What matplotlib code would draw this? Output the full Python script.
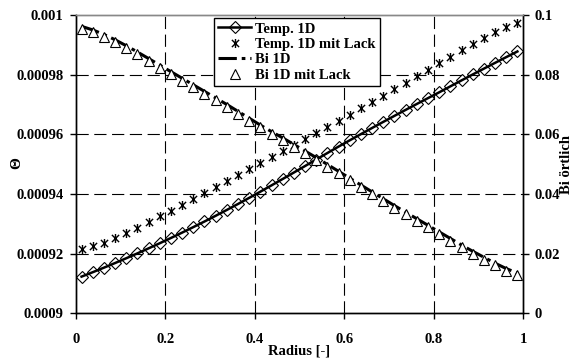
import matplotlib
matplotlib.use("Agg")
import matplotlib.pyplot as plt
from matplotlib.path import Path

plt.rcParams['font.family'] = ['Liberation Serif', 'DejaVu Serif']
plt.rcParams['font.weight'] = 'bold'

# ---------------- data ----------------
radius = [0.0125, 0.0375, 0.0625, 0.0875, 0.1125, 0.1375, 0.1625, 0.1875, 0.2125, 0.2375,
          0.2625, 0.2875, 0.3125, 0.3375, 0.3625, 0.3875, 0.4125, 0.4375, 0.4625, 0.4875,
          0.5125, 0.5375, 0.5625, 0.5875, 0.6125, 0.6375, 0.6625, 0.6875, 0.7125, 0.7375,
          0.7625, 0.7875, 0.8125, 0.8375, 0.8625, 0.8875, 0.9125, 0.9375, 0.9625, 0.9875]

temp_1d = [9.1230e-4, 9.1378e-4, 9.1530e-4, 9.1686e-4, 9.1846e-4, 9.2010e-4, 9.2178e-4, 9.2350e-4,
           9.2526e-4, 9.2706e-4, 9.2890e-4, 9.3078e-4, 9.3270e-4, 9.3466e-4, 9.3666e-4, 9.3870e-4,
           9.4078e-4, 9.4290e-4, 9.4504e-4, 9.4720e-4, 9.4938e-4, 9.5156e-4, 9.5374e-4, 9.5590e-4,
           9.5800e-4, 9.6008e-4, 9.6214e-4, 9.6418e-4, 9.6620e-4, 9.6820e-4, 9.7018e-4, 9.7214e-4,
           9.7408e-4, 9.7608e-4, 9.7808e-4, 9.8006e-4, 9.8202e-4, 9.8396e-4, 9.8588e-4, 9.8778e-4]

temp_1d_lack = [9.2160e-4, 9.2250e-4, 9.2370e-4, 9.2520e-4, 9.2690e-4, 9.2870e-4, 9.3060e-4, 9.3250e-4,
                9.3445e-4, 9.3640e-4, 9.3835e-4, 9.4030e-4, 9.4230e-4, 9.4430e-4, 9.4630e-4, 9.4830e-4,
                9.5030e-4, 9.5230e-4, 9.5430e-4, 9.5635e-4, 9.5840e-4, 9.6045e-4, 9.6250e-4, 9.6455e-4,
                9.6660e-4, 9.6870e-4, 9.7080e-4, 9.7295e-4, 9.7510e-4, 9.7730e-4, 9.7950e-4, 9.8170e-4,
                9.8390e-4, 9.8605e-4, 9.8815e-4, 9.9020e-4, 9.9220e-4, 9.9415e-4, 9.9590e-4, 9.9740e-4]

bi_1d = [0.0962, 0.0950, 0.0935, 0.0917, 0.0897, 0.0876, 0.0854, 0.0832, 0.0810, 0.0788,
         0.0766, 0.0744, 0.0722, 0.0700, 0.0677, 0.0654, 0.0631, 0.0609, 0.0588, 0.0566,
         0.0544, 0.0522, 0.0499, 0.0476, 0.0453, 0.0430, 0.0407, 0.0384, 0.0361, 0.0339,
         0.0317, 0.0295, 0.0273, 0.0251, 0.0229, 0.0208, 0.0188, 0.0168, 0.0150, 0.0135]

bi_1d_lack = [0.0953, 0.0942, 0.0927, 0.0909, 0.0889, 0.0868, 0.0846, 0.0824, 0.0802, 0.0780,
              0.0758, 0.0736, 0.0714, 0.0692, 0.0669, 0.0646, 0.0623, 0.0601, 0.0580, 0.0559,
              0.0537, 0.0515, 0.0492, 0.0469, 0.0446, 0.0423, 0.0400, 0.0377, 0.0354, 0.0332,
              0.0310, 0.0288, 0.0266, 0.0244, 0.0222, 0.0200, 0.0180, 0.0161, 0.0143, 0.0128]

x_ticks = [0, 0.2, 0.4, 0.6, 0.8, 1.0]
x_ticklabels = ['0', '0.2', '0.4', '0.6', '0.8', '1']
y_ticks = [0.0009, 0.00092, 0.00094, 0.00096, 0.00098, 0.001]
y_ticklabels = ['0.0009', '0.00092', '0.00094', '0.00096', '0.00098', '0.001']
y2_ticks = [0, 0.02, 0.04, 0.06, 0.08, 0.1]
y2_ticklabels = ['0', '0.02', '0.04', '0.06', '0.08', '0.1']

labels = ['Temp. 1D', 'Temp. 1D mit Lack', 'Bi 1D', 'Bi 1D mit Lack']

# ---------------- figure ----------------
fig = plt.figure(figsize=(5.73, 3.61), dpi=100)
ax = fig.add_axes([0.1326, 0.1321, 0.7801, 0.8263])
ax.set_xlim(0, 1)
ax.set_ylim(0.0009, 0.001)

# grid (interior ticks only)
for xv in x_ticks[1:-1]:
    ax.axvline(xv, color='black', lw=0.8, ls=(0, (11, 5)), zorder=0)
for yv in y_ticks[1:-1]:
    ax.axhline(yv, color='black', lw=0.8, ls=(0, (11, 5)), zorder=0)

star_path = Path([(-1, -1), (1, 1), (-1, 1), (1, -1), (0, -1.25), (0, 1.25)],
                 [Path.MOVETO, Path.LINETO, Path.MOVETO, Path.LINETO, Path.MOVETO, Path.LINETO])

h1, = ax.plot(radius, temp_1d, color='black', lw=1.8, marker='D', ms=6,
              mfc='none', mec='black', mew=0.8, label=labels[0], zorder=3)
h2, = ax.plot(radius, temp_1d_lack, ls='none', marker=star_path, ms=6.5,
              mfc='none', mec='black', mew=1.0, label=labels[1], zorder=3)

ax2 = ax.twinx()
ax2.set_ylim(0, 0.1)
h3, = ax2.plot(radius, bi_1d, color='black', lw=2.2, ls=(0, (6, 1.6, 1.2, 1.6)),
               label=labels[2], zorder=2)
h4, = ax2.plot(radius, bi_1d_lack, ls='none', marker='^', ms=6.5,
               mfc='white', mec='black', mew=0.8, label=labels[3], zorder=3)

# ticks
ax.set_xticks(x_ticks)
ax.set_xticklabels(x_ticklabels)
ax.set_yticks(y_ticks)
ax.set_yticklabels(y_ticklabels)
ax2.set_yticks(y2_ticks)
ax2.set_yticklabels(y2_ticklabels)
ax.tick_params(axis='x', direction='out', length=4, width=1, labelsize=10.5, pad=10)
ax.tick_params(axis='y', direction='out', length=4, width=1, labelsize=10.5, pad=5)
ax2.tick_params(axis='y', direction='out', length=4, width=1, labelsize=10.5, pad=4)

for a in (ax, ax2):
    for s in ('left', 'right', 'bottom'):
        a.spines[s].set_linewidth(1.0)
        a.spines[s].set_color('black')
    a.spines['top'].set_color('#888888')
    a.spines['top'].set_linewidth(1.0)

# axis labels
fig.text(0.5227, 1 - 351 / 361, 'Radius [-]', ha='center', va='center', fontsize=10.5, fontweight='bold')
fig.text(17 / 573, 1 - 163 / 361, 'Θ', ha='center', va='center', rotation=90, fontsize=11, fontweight='bold')
fig.text(566 / 573, 1 - 164 / 361, 'Bi örtlich', ha='center', va='center', rotation=90,
         fontsize=10.5, fontweight='bold')

leg = ax2.legend(handles=[h1, h2, h3, h4], loc='upper left', bbox_to_anchor=(0.309, 0.99),
                 borderaxespad=0, fontsize=10.5, frameon=True, fancybox=False, framealpha=1,
                 edgecolor='black', handlelength=2.2, handletextpad=0.3, labelspacing=0.15,
                 borderpad=0.3, numpoints=1)
leg.get_frame().set_linewidth(1.0)

fig.savefig('out.png', dpi=100)
